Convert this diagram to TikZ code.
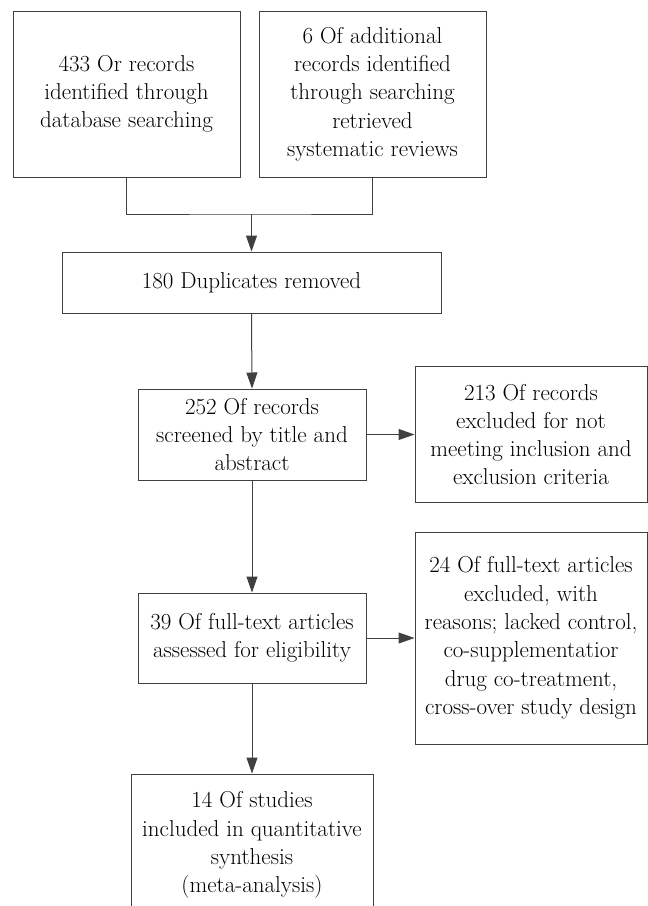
\documentclass[tikz,border=0pt]{standalone}
\usetikzlibrary{arrows.meta}

\tikzset{
  box/.style={draw=black!75, line width=1pt, rectangle, align=center, inner sep=0pt,
    text=black, font=\fontsize{23pt}{28.3pt}\selectfont},
  flow/.style={draw=black!75, line width=1pt, -{Triangle[length=16pt,width=11pt]}},
  link/.style={draw=black!75, line width=1pt}
}

\begin{document}
\begin{tikzpicture}[x=1pt, y=-1pt]
\clip (0,0) rectangle (648,906);

\node[box, minimum width=227pt, minimum height=166pt] (records)    at (126.5,94)  {433 Or records\\identified through\\database searching};
\node[box, minimum width=227pt, minimum height=166pt] (additional) at (372.5,94)  {6 Of additional\\records identified\\through searching\\retrieved\\systematic reviews};
\node[box, minimum width=379pt, minimum height=61pt]  (duplicates) at (251.5,282.5) {180 Duplicates removed};
\node[box, minimum width=228pt, minimum height=91pt]  (screened)   at (252,434.5) {252 Of records\\screened by title and\\abstract};
\node[box, minimum width=232pt, minimum height=136pt] (excludedA)  at (531,434.5) {213 Of records\\excluded for not\\meeting inclusion and\\exclusion criteria};
\node[box, minimum width=228pt, minimum height=90pt]  (fulltext)   at (252,638)   {39 Of full-text articles\\assessed for eligibility};
\node[box, minimum width=232pt, minimum height=212pt] (excludedB)  at (531,638)   {24 Of full-text articles\\excluded, with\\reasons; lacked control,\\co-supplementatior\\drug co-treatment,\\cross-over study design};
\node[box, minimum width=242pt, minimum height=142pt] (included)   at (252,845)   {14 Of studies\\included in quantitative\\synthesis\\(meta-analysis)};

% merge the two sources
\coordinate (join) at (251.5,214);
\draw[link] (records.south) |- (join) -| (additional.south);
\draw[flow] (join) -- (duplicates.north);

\draw[flow] (duplicates.south) -- (screened.north);
\draw[flow] (screened.east) -- (excludedA.west);
\draw[flow] (screened.south) -- (fulltext.north);
\draw[flow] (fulltext.east) -- (excludedB.west);
\draw[flow] (fulltext.south) -- (included.north);
\end{tikzpicture}
\end{document}
